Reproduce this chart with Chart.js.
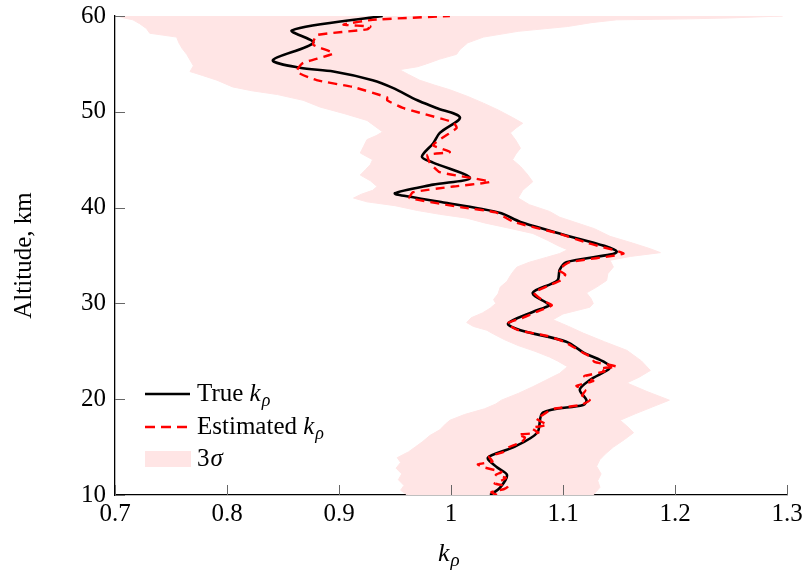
<!DOCTYPE html>
<html>
<head>
<meta charset="utf-8">
<script src="https://cdn.jsdelivr.net/npm/chart.js@4.4.1/dist/chart.umd.min.js"></script>
<style>
  body { margin: 0; background: #fff; }
  canvas { display: block; }
</style>
</head>
<body>
<canvas id="chart" width="804" height="573"></canvas>
<script>
// altitude (km) and k_rho for each curve
const trueAlt = [10.0, 10.8, 12.1, 12.9, 13.9, 15.0, 16.5, 18.6, 19.4, 19.9, 21.0, 22.0, 23.4, 24.9, 26.0, 27.2, 27.9, 29.1, 29.8, 30.0, 31.1, 32.4, 33.5, 34.3, 35.4, 37.3, 38.5, 39.4, 39.9, 40.5, 41.1, 41.5, 42.4, 43.1, 44.7, 45.3, 46.7, 47.8, 49.4, 50.4, 51.2, 52.5, 53.3, 54.2, 54.6, 55.4, 57.2, 58.5, 60.0];
const trueK   = [1.035, 1.044, 1.050, 1.041, 1.033, 1.056, 1.077, 1.082, 1.118, 1.121, 1.115, 1.124, 1.142, 1.118, 1.103, 1.062, 1.051, 1.073, 1.088, 1.086, 1.073, 1.095, 1.097, 1.103, 1.148, 1.097, 1.062, 1.045, 1.025, 0.995, 0.965, 0.950, 0.984, 1.017, 0.984, 0.974, 0.984, 0.990, 1.008, 0.987, 0.970, 0.948, 0.930, 0.895, 0.865, 0.841, 0.877, 0.858, 0.939];

const estAlt = [10.0, 10.3, 10.6, 10.9, 11.2, 11.5, 11.8, 12.1, 12.4, 12.9, 13.2, 13.5, 14.0, 14.5, 15.0, 15.5, 16.0, 16.3, 16.5, 17.0, 17.3, 17.5, 18.0, 18.3, 18.6, 19.0, 19.4, 19.9, 20.4, 20.9, 21.4, 21.9, 22.4, 22.9, 23.2, 23.4, 23.9, 24.4, 24.9, 25.4, 26.0, 26.6, 27.2, 27.9, 28.5, 29.1, 29.8, 30.3, 31.1, 31.8, 32.4, 33.0, 33.5, 34.3, 35.2, 36.3, 37.3, 38.5, 39.5, 40.0, 41.0, 41.6, 42.2, 42.7, 43.7, 44.7, 45.5, 45.8, 46.5, 47.1, 48.3, 48.9, 49.9, 50.4, 51.2, 51.5, 52.6, 53.3, 54.2, 55.1, 56.1, 57.0, 58.0, 58.6, 58.9, 59.1, 59.6, 60.0];
const estK   = [1.041, 1.036, 1.047, 1.051, 1.039, 1.045, 1.049, 1.040, 1.045, 1.029, 1.024, 1.037, 1.034, 1.047, 1.052, 1.063, 1.066, 1.060, 1.078, 1.072, 1.086, 1.083, 1.076, 1.081, 1.085, 1.092, 1.116, 1.124, 1.117, 1.120, 1.112, 1.127, 1.119, 1.137, 1.133, 1.148, 1.128, 1.125, 1.117, 1.110, 1.101, 1.086, 1.060, 1.050, 1.064, 1.076, 1.090, 1.082, 1.074, 1.086, 1.098, 1.102, 1.096, 1.106, 1.154, 1.122, 1.096, 1.056, 1.040, 1.011, 0.963, 0.966, 1.002, 1.035, 0.990, 0.981, 0.979, 0.999, 0.984, 0.990, 1.005, 1.002, 0.972, 0.957, 0.943, 0.943, 0.912, 0.880, 0.862, 0.868, 0.895, 0.877, 0.880, 0.925, 0.928, 0.904, 0.930, 0.999];

// 3 sigma band: left edge bottom to top, right edge top to bottom
const bandLeftAlt = [10.0, 10.5, 11.0, 11.6, 12.2, 12.8, 13.4, 13.9, 14.5, 15.0, 15.6, 16.2, 16.8, 17.4, 17.8, 18.4, 19.0, 19.5, 19.9, 20.6, 21.3, 22.0, 22.7, 23.4, 24.0, 24.4, 25.0, 25.6, 26.2, 26.8, 27.2, 27.6, 28.0, 28.5, 29.0, 29.5, 30.0, 30.4, 31.0, 31.7, 32.3, 32.9, 33.4, 33.8, 34.3, 34.8, 35.2, 35.6, 36.0, 36.6, 37.3, 37.9, 38.4, 38.9, 39.3, 39.7, 40.2, 40.6, 41.0, 41.4, 41.8, 42.2, 42.8, 43.4, 44.0, 44.5, 45.0, 45.7, 46.4, 47.1, 47.5, 47.9, 48.5, 49.1, 49.8, 50.5, 51.2, 51.8, 52.2, 52.6, 53.3, 53.8, 54.2, 54.8, 55.4, 56.0, 56.6, 57.2, 57.8, 58.2, 58.7, 59.2, 59.6, 59.8, 60.0];
const bandLeftK   = [0.961, 0.955, 0.958, 0.953, 0.956, 0.951, 0.955, 0.952, 0.962, 0.968, 0.975, 0.981, 0.990, 0.995, 0.999, 1.012, 1.030, 1.040, 1.045, 1.060, 1.073, 1.085, 1.097, 1.104, 1.095, 1.088, 1.075, 1.060, 1.048, 1.038, 1.032, 1.020, 1.014, 1.018, 1.028, 1.035, 1.040, 1.038, 1.042, 1.044, 1.050, 1.053, 1.056, 1.059, 1.070, 1.085, 1.097, 1.104, 1.096, 1.086, 1.073, 1.050, 1.030, 1.014, 0.990, 0.970, 0.950, 0.925, 0.913, 0.920, 0.930, 0.934, 0.928, 0.919, 0.924, 0.928, 0.930, 0.919, 0.922, 0.925, 0.933, 0.939, 0.932, 0.925, 0.905, 0.883, 0.868, 0.845, 0.822, 0.805, 0.791, 0.778, 0.767, 0.770, 0.767, 0.764, 0.760, 0.757, 0.755, 0.731, 0.728, 0.722, 0.716, 0.708, 0.702];
const bandRightAlt = [60.0, 59.8, 59.7, 59.6, 59.3, 58.9, 58.4, 57.8, 57.2, 56.5, 56.0, 55.5, 55.0, 54.7, 54.4, 53.9, 53.3, 52.8, 52.3, 51.6, 50.9, 50.2, 49.4, 48.8, 48.3, 47.8, 47.0, 46.2, 45.6, 45.0, 44.3, 43.5, 42.7, 41.8, 41.0, 40.3, 39.6, 39.0, 38.5, 37.8, 37.0, 36.3, 35.7, 35.3, 34.9, 34.5, 33.8, 33.1, 32.4, 31.7, 31.1, 30.5, 30.0, 29.6, 28.9, 28.3, 27.6, 26.9, 26.0, 25.1, 24.0, 23.0, 22.3, 21.7, 20.8, 19.9, 19.2, 18.5, 17.8, 17.1, 16.5, 15.8, 15.0, 14.3, 13.7, 13.0, 12.2, 11.5, 10.8, 10.0];
const bandRightK   = [1.296, 1.250, 1.211, 1.148, 1.125, 1.104, 1.060, 1.029, 1.015, 1.008, 1.005, 0.990, 0.978, 0.970, 0.954, 0.962, 0.972, 0.985, 0.999, 1.015, 1.029, 1.042, 1.055, 1.064, 1.058, 1.053, 1.058, 1.062, 1.058, 1.055, 1.062, 1.068, 1.073, 1.064, 1.060, 1.070, 1.088, 1.097, 1.110, 1.128, 1.142, 1.162, 1.178, 1.187, 1.160, 1.142, 1.145, 1.140, 1.139, 1.130, 1.121, 1.125, 1.127, 1.124, 1.100, 1.091, 1.105, 1.118, 1.137, 1.157, 1.170, 1.178, 1.168, 1.157, 1.175, 1.195, 1.180, 1.165, 1.151, 1.158, 1.163, 1.155, 1.145, 1.138, 1.133, 1.130, 1.134, 1.131, 1.133, 1.127];

const xTickLabels = ['0.7', '0.8', '0.9', '1', '1.1', '1.2', '1.3'];
const yTickLabels = ['10', '20', '30', '40', '50', '60'];

const SERIF = '"Liberation Serif", "DejaVu Serif", serif';
const BAND = '#ffe5e5';

function toPoints(alts, ks) {
    return alts.map((a, i) => ({ x: ks[i], y: a }));
}

const bandPoints = toPoints(bandLeftAlt, bandLeftK).concat(toPoints(bandRightAlt, bandRightK));

// italic k with a subscript rho
function drawKRho(ctx, x, y, size) {
    ctx.font = 'italic ' + size + 'px ' + SERIF;
    ctx.fillText('k', x, y);
    x += ctx.measureText('k').width + 1;
    ctx.font = 'italic ' + Math.round(size * 0.72) + 'px ' + SERIF;
    ctx.fillText('ρ', x, y + size * 0.2);
    return x + ctx.measureText('ρ').width;
}

// no label overhang, so the plot box sits where the padding says
function fixScale(s, key, size) {
    s[key] = size;
    s.paddingLeft = 0;
    s.paddingRight = 0;
    s.paddingTop = 0;
    s.paddingBottom = 0;
}

// inward ticks, axis titles and the legend box
const decorations = {
    id: 'decorations',
    afterDraw(chart) {
        const ctx = chart.ctx;
        const xs = chart.scales.x, ys = chart.scales.y;
        const area = chart.chartArea;
        ctx.save();
        ctx.strokeStyle = '#666';
        ctx.lineWidth = 1;
        ctx.beginPath();
        xs.ticks.forEach(t => {
            const px = Math.round(xs.getPixelForValue(t.value)) + 0.5;
            ctx.moveTo(px, area.bottom);
            ctx.lineTo(px, area.bottom - 10);
        });
        ys.ticks.forEach(t => {
            const py = Math.round(ys.getPixelForValue(t.value)) + 0.5;
            ctx.moveTo(area.left, py);
            ctx.lineTo(area.left + 10, py);
        });
        ctx.stroke();

        ctx.fillStyle = '#000';
        ctx.textBaseline = 'alphabetic';
        ctx.textAlign = 'left';

        // y title
        ctx.save();
        ctx.translate(31, (area.top + area.bottom) / 2);
        ctx.rotate(-Math.PI / 2);
        ctx.textAlign = 'center';
        ctx.font = '25px ' + SERIF;
        ctx.fillText('Altitude, km', 0, 0);
        ctx.restore();

        // x title
        drawKRho(ctx, (area.left + area.right) / 2 - 13, 561, 26);

        // legend
        ctx.lineWidth = 2.6;
        ctx.strokeStyle = '#000';
        ctx.beginPath();
        ctx.moveTo(145, 394);
        ctx.lineTo(190, 394);
        ctx.stroke();
        ctx.strokeStyle = '#ff0000';
        ctx.setLineDash([10, 6]);
        ctx.beginPath();
        ctx.moveTo(145, 427);
        ctx.lineTo(190, 427);
        ctx.stroke();
        ctx.setLineDash([]);
        ctx.fillStyle = BAND;
        ctx.fillRect(145, 451, 46, 16);

        ctx.fillStyle = '#000';
        ctx.font = '25px ' + SERIF;
        ctx.fillText('True ', 197, 401);
        drawKRho(ctx, 197 + ctx.measureText('True ').width, 401, 25);
        ctx.font = '25px ' + SERIF;
        ctx.fillText('Estimated ', 197, 434);
        drawKRho(ctx, 197 + ctx.measureText('Estimated ').width, 434, 25);
        ctx.font = '25px ' + SERIF;
        ctx.fillText('3', 197, 466);
        const w3 = ctx.measureText('3').width;
        ctx.font = 'italic 25px ' + SERIF;
        ctx.fillText('σ', 197 + w3 + 1, 466);
        ctx.restore();
    }
};

new Chart(document.getElementById('chart'), {
    type: 'line',
    data: {
        datasets: [
            {
                label: 'Estimated',
                data: toPoints(estAlt, estK),
                borderColor: '#ff0000',
                borderWidth: 2.4,
                borderDash: [9, 6],
                pointRadius: 0,
                tension: 0.15,
                fill: false
            },
            {
                label: 'True',
                data: toPoints(trueAlt, trueK),
                borderColor: '#000000',
                borderWidth: 2.6,
                pointRadius: 0,
                tension: 0.3,
                fill: false
            },
            {
                label: '3sigma',
                data: bandPoints,
                borderColor: BAND,
                backgroundColor: BAND,
                borderWidth: 1,
                pointRadius: 0,
                tension: 0,
                fill: 'shape'
            }
        ]
    },
    options: {
        responsive: false,
        animation: false,
        layout: { padding: { top: 16, right: 17, left: 0, bottom: 0 } },
        plugins: {
            legend: { display: false },
            tooltip: { enabled: false }
        },
        scales: {
            x: {
                type: 'linear',
                min: 0.7,
                max: 1.3,
                ticks: {
                    stepSize: 0.1,
                    maxRotation: 0,
                    autoSkip: false,
                    padding: 4,
                    color: '#000',
                    font: { family: SERIF, size: 25 },
                    callback: (v) => xTickLabels[Math.round((v - 0.7) * 10)]
                },
                grid: { display: false, drawTicks: false },
                border: { display: true, color: '#000', width: 1.3 },
                afterFit: (s) => fixScale(s, 'height', 78)
            },
            y: {
                type: 'linear',
                min: 10,
                max: 60,
                ticks: {
                    stepSize: 10,
                    autoSkip: false,
                    padding: 9,
                    color: '#000',
                    font: { family: SERIF, size: 25 },
                    callback: (v) => yTickLabels[Math.round((v - 10) / 10)]
                },
                grid: { display: false, drawTicks: false },
                border: { display: true, color: '#000', width: 1.3 },
                afterFit: (s) => fixScale(s, 'width', 115)
            }
        }
    },
    plugins: [decorations]
});
</script>
</body>
</html>
